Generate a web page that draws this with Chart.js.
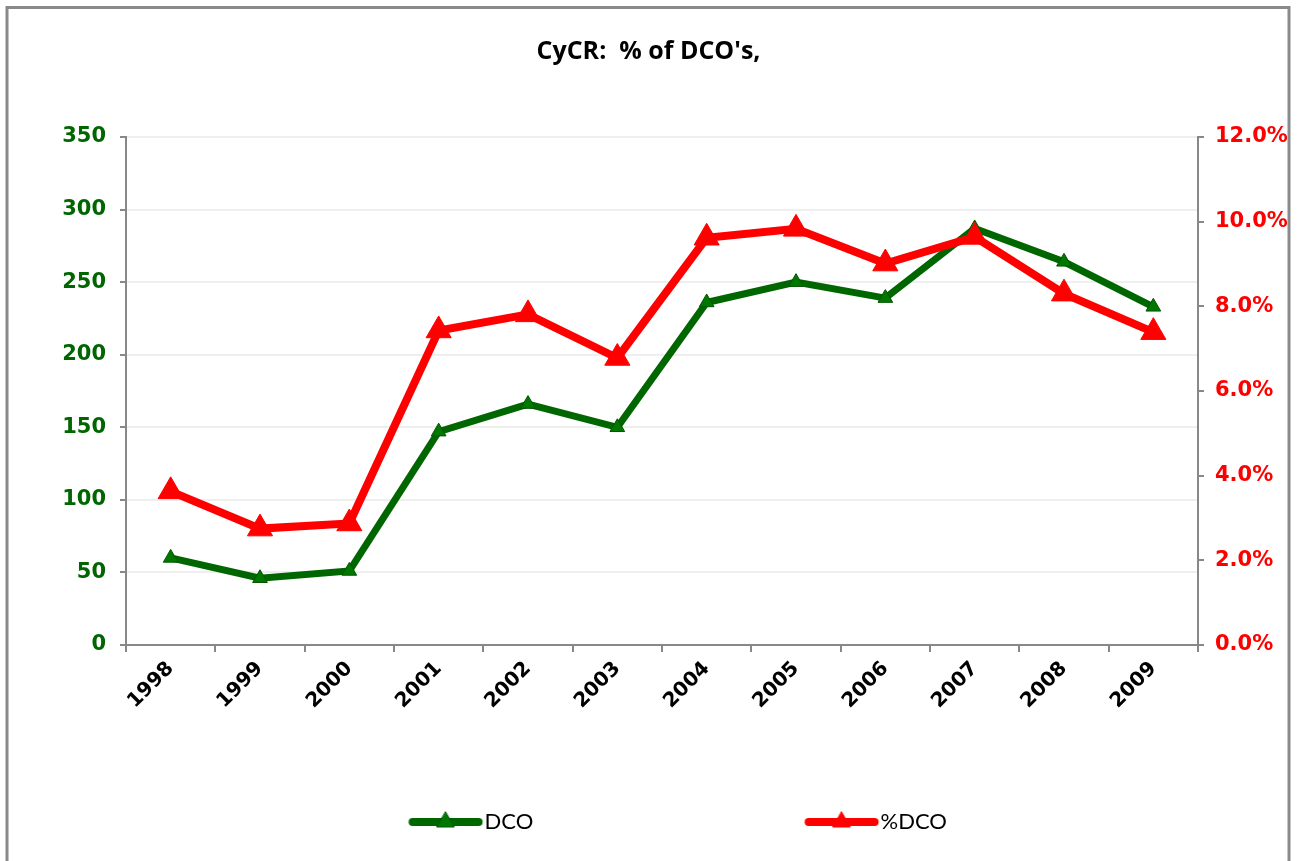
<!DOCTYPE html>
<html><head><meta charset="utf-8">
<script src="https://cdn.jsdelivr.net/npm/chart.js@4/dist/chart.umd.min.js"></script>
<style>html,body{margin:0;padding:0;background:#fff;overflow:hidden}</style>
</head><body>
<canvas id="c" width="1297" height="861"></canvas>
<script>
// ---- data ----
const years = ['1998','1999','2000','2001','2002','2003','2004','2005','2006','2007','2008','2009'];
const dcoValues = [60, 46, 51, 147, 166, 150, 236, 250, 239, 287, 264, 233];
const pctDcoValues = [3.63, 2.75, 2.87, 7.43, 7.81, 6.78, 9.62, 9.83, 9.01, 9.64, 8.30, 7.39];
const leftAxisMax = 350, leftAxisStep = 50;
const rightAxisMax = 12, rightAxisStep = 2;
const titleText = "CyCR:  % of DCO's,";
const seriesNames = ['DCO', '%DCO'];

// ---- styles ----
const GREEN_LINE = '#006600', GREEN_FILL = '#007800', GREEN_EDGE = '#005500';
const RED = '#ff0000';
const AXIS_GRAY = '#888888';
const TICK_FONT = 'DejaVu Sans';
const LEGEND_SIZE = 22;

// legend geometry (computed from measured text so spacing matches)
const mctx = document.createElement('canvas').getContext('2d');
mctx.font = LEGEND_SIZE + 'px Lato';
const tw1 = mctx.measureText(seriesNames[0]).width;
const tw2 = mctx.measureText(seriesNames[1]).width;
const sw = mctx.measureText('\u00A0').width || 5;
const LP = 10, half = LEGEND_SIZE / 2;
const T1 = 484, T2 = 880;
let S = 1297 - LP - tw1 - tw2 - 2 * T1;
const nSp = Math.max(0, Math.round(S / sw));
S = nSp * sw;
const P = T2 - T1 - tw1 - S - LP - half;

function legendIcon(lineColor, fill, edge, r) {
  const c = document.createElement('canvas');
  c.width = Math.round(2 * P); c.height = 32;
  const g = c.getContext('2d');
  const xe = 1.5 * P + half - 6, xs = xe - 66, cy = 16;
  g.strokeStyle = lineColor; g.lineWidth = 8; g.lineCap = 'round';
  g.beginPath(); g.moveTo(xs, cy); g.lineTo(xe, cy); g.stroke();
  const cx = (xs + xe) / 2;
  g.fillStyle = fill; g.strokeStyle = edge; g.lineWidth = 1;
  g.beginPath();
  g.moveTo(cx, cy - r);
  g.lineTo(cx + r * 0.866, cy + r * 0.5);
  g.lineTo(cx - r * 0.866, cy + r * 0.5);
  g.closePath(); g.fill(); g.stroke();
  return c;
}
const iconDCO = legendIcon(GREEN_LINE, GREEN_FILL, GREEN_EDGE, 10);
const iconPct = legendIcon(RED, RED, RED, 10);

const frame = {
  id: 'frame',
  afterDraw(chart) {
    const g = chart.ctx;
    g.save();
    g.strokeStyle = '#8a8a8a'; g.lineWidth = 3;
    g.strokeRect(7, 7.5, 1282, 900);
    g.restore();
  }
};

new Chart(document.getElementById('c'), {
  type: 'line',
  data: {
    labels: years,
    datasets: [
      {
        label: seriesNames[0], data: dcoValues, yAxisID: 'y', order: 1,
        borderColor: GREEN_LINE, borderWidth: 7, tension: 0,
        pointStyle: 'triangle', pointRadius: 8.5, pointHoverRadius: 8.5,
        pointBackgroundColor: GREEN_FILL, pointBorderColor: GREEN_EDGE, pointBorderWidth: 1,
        clip: false
      },
      {
        label: seriesNames[1], data: pctDcoValues, yAxisID: 'y1', order: 0,
        borderColor: RED, borderWidth: 8, tension: 0,
        pointStyle: 'triangle', pointRadius: 14.5, pointHoverRadius: 14.5,
        pointBackgroundColor: RED, pointBorderColor: RED, pointBorderWidth: 1,
        clip: false
      }
    ]
  },
  options: {
    responsive: false,
    animation: false,
    devicePixelRatio: 1,
    layout: { padding: { left: 10, right: 10, top: 0, bottom: 18 } },
    plugins: {
      tooltip: { enabled: false },
      title: {
        display: true, text: titleText, color: '#000',
        font: { family: 'Open Sans', size: 25, weight: 'bold' },
        padding: { top: 37, bottom: 70 }
      },
      legend: {
        position: 'bottom',
        labels: {
          usePointStyle: true,
          pointStyleWidth: P,
          padding: LP,
          color: '#000',
          font: { family: 'Lato', size: LEGEND_SIZE },
          generateLabels: () => [
            { text: seriesNames[0] + '\u00A0'.repeat(nSp), pointStyle: iconDCO, fillStyle: GREEN_LINE, strokeStyle: GREEN_LINE, lineWidth: 0, hidden: false, datasetIndex: 0, fontColor: '#000' },
            { text: seriesNames[1], pointStyle: iconPct, fillStyle: RED, strokeStyle: RED, lineWidth: 0, hidden: false, datasetIndex: 1, fontColor: '#000' }
          ]
        }
      }
    },
    scales: {
      x: {
        type: 'category', offset: true,
        grid: { offset: true, drawOnChartArea: false, tickLength: 7, color: AXIS_GRAY, lineWidth: 2 },
        border: { color: AXIS_GRAY, width: 2 },
        ticks: { color: '#000', font: { family: TICK_FONT, size: 20, weight: 'bold' }, minRotation: 45, maxRotation: 45, autoSkip: false, padding: 5 },
        afterFit: s => { s.height = 156; }
      },
      y: {
        position: 'left', min: 0, max: leftAxisMax,
        ticks: { stepSize: leftAxisStep, color: '#006600', font: { family: TICK_FONT, size: 21, weight: 'bold' }, padding: 14 },
        grid: { color: c => (c.tick && c.tick.value === 0) ? 'rgba(0,0,0,0)' : '#efefef', lineWidth: 2, tickLength: 6, tickColor: AXIS_GRAY },
        border: { color: AXIS_GRAY, width: 2 },
        afterFit: s => { s.width = 116; }
      },
      y1: {
        position: 'right', min: 0, max: rightAxisMax,
        ticks: { stepSize: rightAxisStep, color: RED, font: { family: TICK_FONT, size: 21, weight: 'bold' }, padding: 11, callback: v => Number(v).toFixed(1) + '%' },
        grid: { drawOnChartArea: false, tickLength: 6, tickColor: AXIS_GRAY, color: AXIS_GRAY, lineWidth: 2 },
        border: { color: AXIS_GRAY, width: 2 },
        afterFit: s => { s.width = 89; }
      }
    }
  },
  plugins: [frame]
});
</script>
</body></html>
